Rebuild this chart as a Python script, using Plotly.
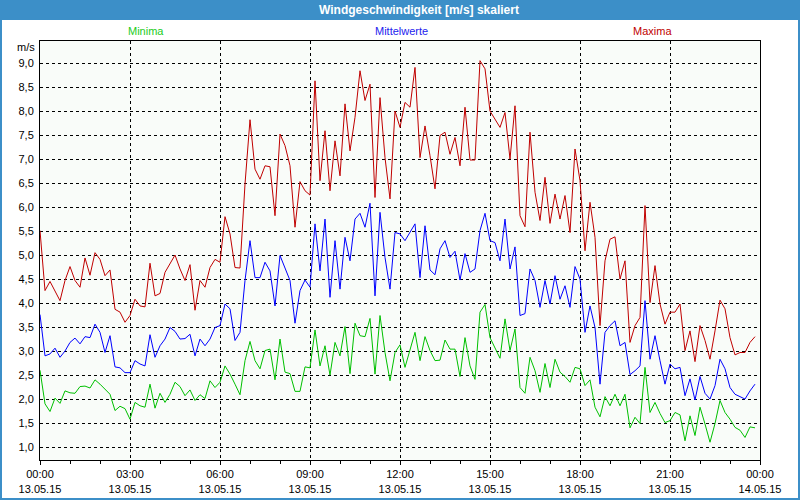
import pandas as pd
import plotly.graph_objects as go

times = pd.date_range("2015-05-13 00:00", periods=144, freq="10min")

maxima = [
    5.51, 4.26, 4.45, 4.26, 4.05, 4.47, 4.76, 4.47, 4.33, 4.94, 4.58, 5.05, 4.91, 4.57, 4.69, 3.87, 3.81, 3.60,
    3.74, 4.08, 3.94, 3.92, 4.83, 4.15, 4.20, 4.64, 4.81, 5.00, 4.71, 4.47, 4.80, 3.85, 4.47, 4.33, 4.74, 4.91,
    4.85, 5.80, 5.44, 4.74, 4.73, 6.48, 7.82, 6.79, 6.58, 6.86, 6.84, 5.82, 7.52, 7.28, 6.86, 5.58, 6.53, 6.34,
    6.25, 8.63, 6.55, 7.59, 6.34, 7.38, 6.65, 8.15, 7.17, 7.87, 8.84, 8.22, 8.56, 6.20, 8.28, 7.03, 6.17, 8.00,
    7.66, 8.18, 8.08, 8.91, 7.03, 7.69, 7.07, 6.38, 7.49, 7.56, 7.10, 7.45, 6.86, 8.08, 6.98, 6.98, 9.05, 8.88,
    8.00, 7.83, 7.66, 7.97, 7.00, 8.11, 5.82, 5.59, 7.56, 6.31, 5.72, 6.62, 5.66, 6.27, 5.75, 6.24, 5.47, 7.21,
    6.55, 5.09, 6.10, 5.37, 3.53, 4.88, 5.33, 5.38, 4.50, 4.88, 3.18, 3.53, 3.70, 6.03, 4.01, 4.78, 3.98, 3.56,
    3.81, 3.81, 3.98, 3.01, 3.42, 2.78, 3.53, 3.22, 2.83, 3.42, 4.06, 3.88, 3.28, 2.92, 2.97, 2.97, 3.18, 3.30,
]

mittelwerte = [
    3.76, 2.90, 2.94, 3.06, 2.87, 3.00, 3.18, 3.27, 3.15, 3.30, 3.28, 3.56, 3.39, 2.97, 3.32, 2.67, 2.65, 2.55,
    2.55, 2.80, 2.73, 2.69, 3.34, 2.87, 3.11, 3.25, 3.49, 3.41, 3.25, 3.26, 3.35, 2.90, 3.25, 3.11, 3.25, 3.49,
    3.53, 3.98, 3.88, 3.22, 3.39, 4.47, 5.30, 4.53, 4.53, 4.85, 4.67, 3.94, 4.99, 4.74, 4.47, 3.58, 4.26, 4.48,
    4.33, 5.65, 4.67, 5.75, 4.12, 5.30, 4.29, 5.37, 4.88, 5.75, 5.87, 5.58, 6.08, 4.15, 5.89, 4.95, 4.29, 5.47,
    5.44, 5.30, 5.47, 5.65, 4.53, 5.61, 4.69, 4.59, 5.13, 5.30, 4.95, 5.08, 4.48, 5.03, 4.64, 4.71, 5.51, 5.87,
    5.30, 5.26, 4.88, 5.75, 4.71, 5.17, 3.74, 3.78, 4.71, 4.47, 3.91, 4.47, 3.98, 4.57, 4.08, 4.36, 3.91, 4.76,
    4.50, 3.39, 3.94, 3.49, 2.31, 3.39, 3.53, 3.63, 3.11, 3.18, 2.51, 2.59, 2.69, 4.05, 2.83, 3.32, 2.80, 2.31,
    2.73, 2.63, 2.66, 2.07, 2.42, 1.98, 2.47, 2.12, 2.00, 2.28, 2.83, 2.63, 2.24, 2.10, 2.05, 2.00, 2.17, 2.31,
]

minima = [
    2.60, 1.90, 1.74, 2.02, 1.91, 2.17, 2.13, 2.12, 2.26, 2.27, 2.23, 2.40, 2.31, 2.20, 2.10, 1.76, 1.85, 1.80,
    1.58, 1.93, 1.86, 1.83, 2.31, 1.81, 2.12, 1.93, 2.10, 2.35, 2.26, 2.07, 2.19, 1.97, 2.09, 2.01, 2.38, 2.24,
    2.35, 2.69, 2.52, 2.31, 2.09, 2.80, 3.20, 2.80, 2.63, 3.01, 3.04, 2.40, 3.25, 2.56, 2.53, 2.16, 2.16, 2.67,
    2.65, 3.44, 2.69, 3.11, 2.50, 3.18, 2.90, 3.51, 2.53, 3.58, 3.32, 3.30, 3.68, 2.52, 3.74, 2.97, 2.38, 2.97,
    3.13, 2.66, 3.04, 3.39, 2.80, 3.30, 3.01, 2.80, 2.81, 3.23, 3.04, 3.04, 2.47, 3.28, 2.69, 2.41, 3.81, 3.97,
    3.28, 3.08, 2.85, 3.67, 3.01, 3.46, 2.24, 2.12, 2.87, 2.59, 2.14, 2.74, 2.24, 2.83, 2.56, 2.47, 2.35, 2.66,
    2.63, 2.28, 2.40, 1.83, 1.63, 2.05, 1.86, 2.10, 1.86, 2.10, 1.40, 1.62, 1.49, 2.66, 1.72, 1.93, 1.70, 1.51,
    1.55, 1.72, 1.67, 1.13, 1.65, 1.24, 1.83, 1.48, 1.10, 1.49, 1.97, 1.72, 1.58, 1.41, 1.35, 1.20, 1.42, 1.40,
]

x_tickvals = pd.date_range("2015-05-13 00:00", periods=9, freq="3h")
x_ticktext = [
    "00:00<br>13.05.15", "03:00<br>13.05.15", "06:00<br>13.05.15", "09:00<br>13.05.15",
    "12:00<br>13.05.15", "15:00<br>13.05.15", "18:00<br>13.05.15", "21:00<br>13.05.15",
    "00:00<br>14.05.15",
]
y_tickvals = [1.0, 1.5, 2.0, 2.5, 3.0, 3.5, 4.0, 4.5, 5.0, 5.5, 6.0, 6.5, 7.0, 7.5, 8.0, 8.5, 9.0]
y_ticktext = ["1,0", "1,5", "2,0", "2,5", "3,0", "3,5", "4,0", "4,5", "5,0",
              "5,5", "6,0", "6,5", "7,0", "7,5", "8,0", "8,5", "9,0"]

series_names = ["Minima", "Mittelwerte", "Maxima"]
series_colors = ["#00c000", "#0000ff", "#c00000"]
label_colors = ["#22cc22", "#2222ee", "#c00000"]

FONT = "Liberation Sans"
FRAME = "#3c8fc8"

W, H = 800, 500
L, R, T, B = 40, 40, 41, 40
PW, PH = W - L - R, H - T - B


def px_x(px):
    return (px - L) / PW


def px_y(py):
    return (H - B - py) / PH


fig = go.Figure()
for name, vals, col in zip(series_names, [minima, mittelwerte, maxima], series_colors):
    fig.add_trace(go.Scatter(x=times, y=vals, mode="lines", name=name,
                             line=dict(color=col, width=1), showlegend=False))

fig.update_layout(
    width=W, height=H,
    margin=dict(l=L, r=R, t=T, b=B, pad=0, autoexpand=False),
    paper_bgcolor="white",
    plot_bgcolor="#f9fcf9",
    font=dict(family=FONT, size=11, color="black"),
    xaxis=dict(
        type="date",
        range=["2015-05-13 00:00", "2015-05-14 00:00"],
        tickvals=x_tickvals, ticktext=x_ticktext,
        showgrid=True, gridcolor="black", griddash="3px,3px", gridwidth=1,
        showline=True, linecolor="black", linewidth=1, mirror=True,
        ticks="outside", ticklen=4, tickcolor="black",
        minor=dict(dtick=3600000, ticks="outside", ticklen=3, tickcolor="black", showgrid=False),
        tickfont=dict(family=FONT, size=11, color="black"),
        zeroline=False, fixedrange=True, automargin=False,
    ),
    yaxis=dict(
        range=[0.73, 9.46],
        tickvals=y_tickvals, ticktext=y_ticktext,
        showgrid=True, gridcolor="black", griddash="3px,3px", gridwidth=1,
        showline=True, linecolor="black", linewidth=1, mirror=True,
        ticks="", ticklabelstandoff=3,
        tickfont=dict(family=FONT, size=11, color="black"),
        zeroline=False, fixedrange=True, automargin=False,
    ),
    shapes=[
        dict(type="rect", xref="paper", yref="paper",
             x0=px_x(0), x1=px_x(W), y0=px_y(20), y1=px_y(0),
             fillcolor=FRAME, line=dict(width=0), layer="below"),
        dict(type="rect", xref="paper", yref="paper",
             x0=px_x(1), x1=px_x(W - 1), y0=px_y(H - 1), y1=px_y(1),
             fillcolor="rgba(0,0,0,0)", line=dict(color=FRAME, width=2)),
    ],
    annotations=[
        dict(text="<b>Windgeschwindigkeit [m/s] skaliert</b>", xref="paper", yref="paper",
             x=px_x(419), y=px_y(10), xanchor="center", yanchor="middle", showarrow=False,
             font=dict(family=FONT, size=12, color="white")),
        dict(text="m/s", xref="paper", yref="paper", x=px_x(37), y=px_y(47),
             xanchor="right", yanchor="middle", showarrow=False,
             font=dict(family=FONT, size=11, color="black")),
    ] + [
        dict(text=n, xref="paper", yref="paper", x=px_x(cx), y=px_y(31),
             xanchor="center", yanchor="middle", showarrow=False,
             font=dict(family=FONT, size=11, color=c))
        for n, cx, c in zip(series_names, [146, 401, 652], label_colors)
    ],
)

fig.write_html("out.html", config={"displayModeBar": False})

with open("out.html", "r", encoding="utf-8") as f:
    html = f.read()
html = html.replace("<head>", "<head><style>html,body{margin:0;padding:0;overflow:hidden;}</style>", 1)
with open("out.html", "w", encoding="utf-8") as f:
    f.write(html)
